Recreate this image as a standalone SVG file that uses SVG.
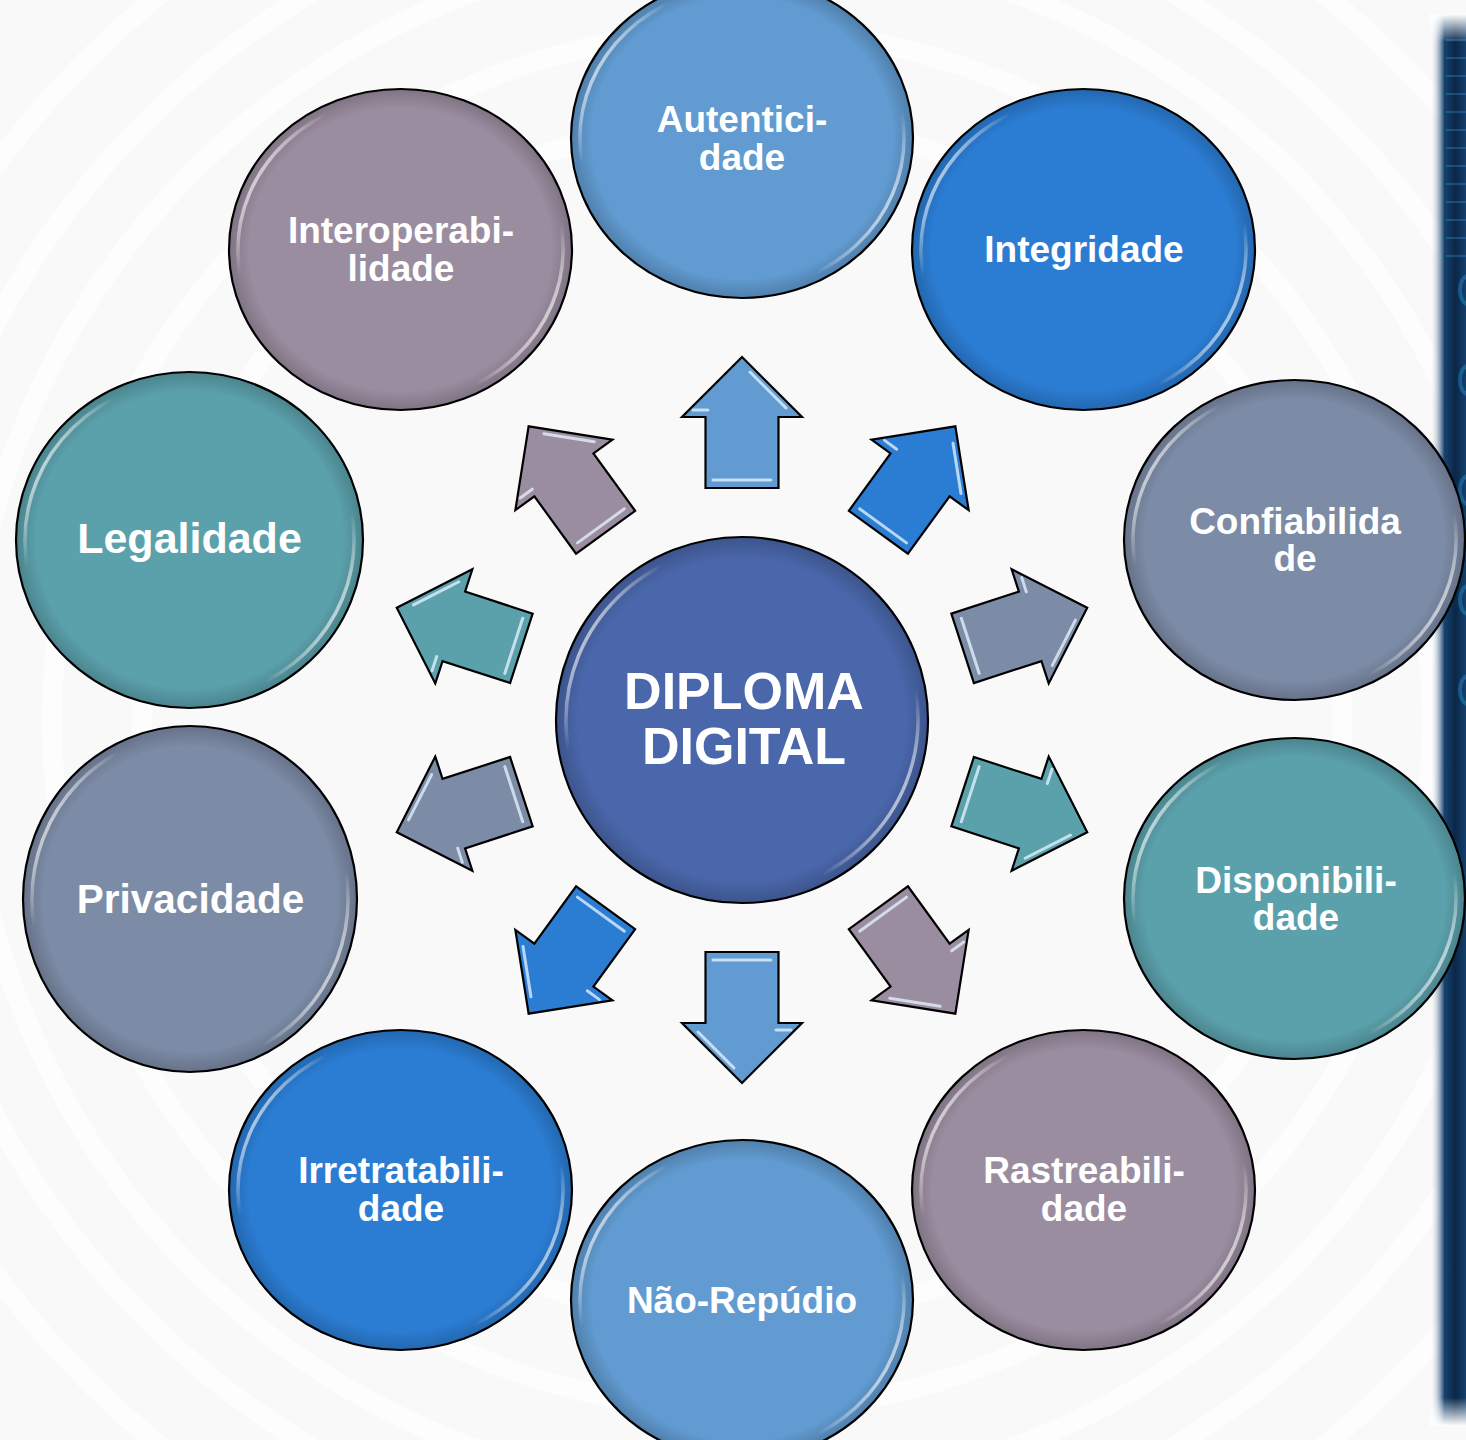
<svg xmlns="http://www.w3.org/2000/svg" xmlns:xlink="http://www.w3.org/1999/xlink" width="1466" height="1440" viewBox="0 0 1466 1440">
<style>
.node{stroke:#000;stroke-width:2.2}
.rim{fill:none;stroke:url(#rim);stroke-width:3.5}
.shade{fill:url(#shade);stroke:none}
.lbl{font-family:"Liberation Sans",Arial,sans-serif;font-weight:bold;fill:#fff;text-anchor:middle}
.t37{font-size:37px}
.gl{fill:none;stroke:#e8f6ff;stroke-width:3;stroke-linecap:round;opacity:.75}
.ring{fill:none;stroke:#ffffff;stroke-width:20}
</style>
<defs>
<linearGradient id="rim" x1="0" y1="0.25" x2="1" y2="0.75">
<stop offset="0" stop-color="#fff" stop-opacity="0.95"/>
<stop offset="0.14" stop-color="#fff" stop-opacity="0"/>
<stop offset="0.86" stop-color="#fff" stop-opacity="0"/>
<stop offset="1" stop-color="#fff" stop-opacity="0.95"/>
</linearGradient>
<radialGradient id="shade" cx="0.5" cy="0.5" r="0.5">
<stop offset="0.88" stop-color="#000" stop-opacity="0"/>
<stop offset="1" stop-color="#000" stop-opacity="0.18"/>
</radialGradient>
<linearGradient id="strip" x1="0" y1="0" x2="1" y2="0">
<stop offset="0" stop-color="#ffffff" stop-opacity="0"/>
<stop offset="0.4" stop-color="#16426e"/>
<stop offset="0.7" stop-color="#0b2747"/>
<stop offset="1" stop-color="#12406c"/>
</linearGradient>
<linearGradient id="stripV" x1="0" y1="0" x2="0" y2="1">
<stop offset="0" stop-color="#fff" stop-opacity="1"/>
<stop offset="0.02" stop-color="#fff" stop-opacity="0"/>
<stop offset="0.98" stop-color="#fff" stop-opacity="0"/>
<stop offset="1" stop-color="#fff" stop-opacity="1"/>
</linearGradient>
<g id="arrow">
<path d="M705.5,488 L705.5,417 L682,417 L742,357 L802,417 L778.5,417 L778.5,488 Z" stroke="#000" stroke-width="2.2" stroke-linejoin="miter"/>
<path class="gl" d="M713,480 L771,480"/>
<path class="gl" d="M750,372 L786,408"/>
<path class="gl" d="M693,410 L708,410"/>
</g>
</defs>

<!-- background -->
<rect x="0" y="0" width="1466" height="1440" fill="#f9f9fa"/>
<g id="rings" opacity="0.8">
<circle class="ring" cx="742" cy="720" r="600"/>
<circle class="ring" cx="742" cy="720" r="690"/>
<circle class="ring" cx="742" cy="720" r="776"/>
<circle class="ring" cx="742" cy="720" r="845"/>
<circle class="ring" cx="742" cy="720" r="930"/>
</g>
<g id="strip-deco">
<rect x="1430" y="14" width="36" height="1412" fill="url(#strip)"/>
<g stroke="#3fa3e0" stroke-width="1.5" opacity="0.4">
<line x1="1446" y1="40" x2="1466" y2="40"/>
<line x1="1446" y1="58" x2="1466" y2="58"/>
<line x1="1446" y1="76" x2="1466" y2="76"/>
<line x1="1446" y1="94" x2="1466" y2="94"/>
<line x1="1446" y1="112" x2="1466" y2="112"/>
<line x1="1446" y1="130" x2="1466" y2="130"/>
<line x1="1446" y1="148" x2="1466" y2="148"/>
<line x1="1446" y1="166" x2="1466" y2="166"/>
<line x1="1446" y1="184" x2="1466" y2="184"/>
<line x1="1446" y1="202" x2="1466" y2="202"/>
<line x1="1446" y1="220" x2="1466" y2="220"/>
<line x1="1446" y1="238" x2="1466" y2="238"/>
<line x1="1446" y1="256" x2="1466" y2="256"/>
</g>
<g fill="none" stroke="#2fa6f0" stroke-width="4" opacity="0.35">
<ellipse cx="1468" cy="290" rx="8" ry="14"/>
<ellipse cx="1468" cy="380" rx="8" ry="14"/>
<ellipse cx="1468" cy="490" rx="8" ry="14"/>
<ellipse cx="1468" cy="600" rx="8" ry="14"/>
<ellipse cx="1468" cy="690" rx="8" ry="14"/>
</g>
<rect x="1430" y="14" width="36" height="1412" fill="url(#stripV)"/>
</g>

<!-- connectors -->
<g id="connectors">
<use xlink:href="#arrow" fill="#619bd1"/>
<use xlink:href="#arrow" fill="#2b7dd4" transform="rotate(36 742 720)"/>
<use xlink:href="#arrow" fill="#7c8ba6" transform="rotate(72 742 720)"/>
<use xlink:href="#arrow" fill="#5ba1ac" transform="rotate(108 742 720)"/>
<use xlink:href="#arrow" fill="#9b8da0" transform="rotate(144 742 720)"/>
<use xlink:href="#arrow" fill="#619bd1" transform="rotate(180 742 720)"/>
<use xlink:href="#arrow" fill="#2b7dd4" transform="rotate(216 742 720)"/>
<use xlink:href="#arrow" fill="#7c8ba6" transform="rotate(252 742 720)"/>
<use xlink:href="#arrow" fill="#5ba1ac" transform="rotate(288 742 720)"/>
<use xlink:href="#arrow" fill="#9b8da0" transform="rotate(324 742 720)"/>
</g>

<!-- center -->
<g id="node-center">
<ellipse class="node" cx="742" cy="720" rx="186" ry="183" fill="#4a67ab"/>
<ellipse class="shade" cx="742" cy="720" rx="186" ry="183"/>
<ellipse class="rim" cx="742" cy="720" rx="176" ry="173"/>
<text class="lbl" x="744" y="709" font-size="52">DIPLOMA</text>
<text class="lbl" x="744" y="764" font-size="52">DIGITAL</text>
</g>

<g id="node-autenticidade">
<ellipse class="node" cx="742" cy="138" rx="171" ry="160" fill="#619bd1"/>
<ellipse class="shade" cx="742" cy="138" rx="171" ry="160"/>
<ellipse class="rim" cx="742" cy="138" rx="162" ry="151"/>
<text class="lbl t37" x="742" y="132">Autentici-</text>
<text class="lbl t37" x="742" y="170">dade</text>
</g>

<g id="node-integridade">
<ellipse class="node" cx="1083.5" cy="249.5" rx="171.5" ry="160.5" fill="#2b7dd4"/>
<ellipse class="shade" cx="1083.5" cy="249.5" rx="171.5" ry="160.5"/>
<ellipse class="rim" cx="1083.5" cy="249.5" rx="162.5" ry="151.5"/>
<text class="lbl t37" x="1084" y="262">Integridade</text>
</g>

<g id="node-confiabilidade">
<ellipse class="node" cx="1294.5" cy="540" rx="170.5" ry="160" fill="#7c8ba6"/>
<ellipse class="shade" cx="1294.5" cy="540" rx="170.5" ry="160"/>
<ellipse class="rim" cx="1294.5" cy="540" rx="161.5" ry="151"/>
<text class="lbl t37" x="1295" y="534">Confiabilida</text>
<text class="lbl t37" x="1295" y="571">de</text>
</g>

<g id="node-disponibilidade">
<ellipse class="node" cx="1294.5" cy="898.5" rx="170.5" ry="160.5" fill="#5ba1ac"/>
<ellipse class="shade" cx="1294.5" cy="898.5" rx="170.5" ry="160.5"/>
<ellipse class="rim" cx="1294.5" cy="898.5" rx="161.5" ry="151.5"/>
<text class="lbl t37" x="1296" y="893">Disponibili-</text>
<text class="lbl t37" x="1296" y="930">dade</text>
</g>

<g id="node-rastreabilidade">
<ellipse class="node" cx="1083.5" cy="1190" rx="171.5" ry="160" fill="#9b8da0"/>
<ellipse class="shade" cx="1083.5" cy="1190" rx="171.5" ry="160"/>
<ellipse class="rim" cx="1083.5" cy="1190" rx="162.5" ry="151"/>
<text class="lbl t37" x="1084" y="1183">Rastreabili-</text>
<text class="lbl t37" x="1084" y="1221">dade</text>
</g>

<g id="node-naorepudio">
<ellipse class="node" cx="742" cy="1300" rx="171" ry="160" fill="#619bd1"/>
<ellipse class="shade" cx="742" cy="1300" rx="171" ry="160"/>
<ellipse class="rim" cx="742" cy="1300" rx="162" ry="151"/>
<text class="lbl t37" x="742" y="1313">Não-Repúdio</text>
</g>

<g id="node-irretratabilidade">
<ellipse class="node" cx="400.5" cy="1190" rx="171.5" ry="160" fill="#2b7dd4"/>
<ellipse class="shade" cx="400.5" cy="1190" rx="171.5" ry="160"/>
<ellipse class="rim" cx="400.5" cy="1190" rx="162.5" ry="151"/>
<text class="lbl t37" x="401" y="1183">Irretratabili-</text>
<text class="lbl t37" x="401" y="1221">dade</text>
</g>

<g id="node-privacidade">
<ellipse class="node" cx="190" cy="899" rx="167" ry="173" fill="#7c8ba6"/>
<ellipse class="shade" cx="190" cy="899" rx="167" ry="173"/>
<ellipse class="rim" cx="190" cy="899" rx="158" ry="164"/>
<text class="lbl" x="190.5" y="913" font-size="40.5">Privacidade</text>
</g>

<g id="node-legalidade">
<ellipse class="node" cx="189.5" cy="540" rx="173.5" ry="168" fill="#5ba1ac"/>
<ellipse class="shade" cx="189.5" cy="540" rx="173.5" ry="168"/>
<ellipse class="rim" cx="189.5" cy="540" rx="164.5" ry="159"/>
<text class="lbl" x="189.5" y="553" font-size="43">Legalidade</text>
</g>

<g id="node-interoperabilidade">
<ellipse class="node" cx="400.5" cy="249.5" rx="171.5" ry="160.5" fill="#9b8da0"/>
<ellipse class="shade" cx="400.5" cy="249.5" rx="171.5" ry="160.5"/>
<ellipse class="rim" cx="400.5" cy="249.5" rx="162.5" ry="151.5"/>
<text class="lbl t37" x="401" y="243">Interoperabi-</text>
<text class="lbl t37" x="401" y="281">lidade</text>
</g>
</svg>
